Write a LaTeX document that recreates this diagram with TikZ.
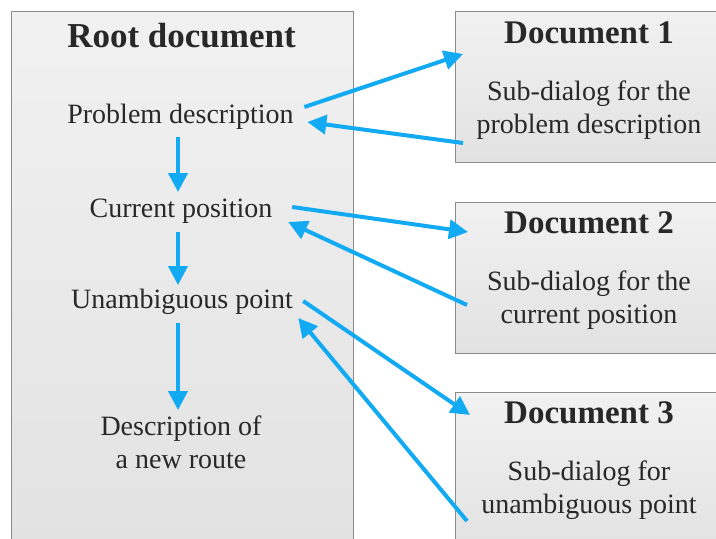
\documentclass[tikz,border=0pt]{standalone}
\usepackage{fontspec}
\setmainfont{Liberation Serif}
\usetikzlibrary{arrows.meta}
\definecolor{arrowblue}{RGB}{18,170,242}
\definecolor{boxline}{RGB}{140,140,140}
\definecolor{boxtop}{RGB}{241,241,241}
\definecolor{boxbot}{RGB}{226,226,226}
\definecolor{txt}{RGB}{40,40,40}
\begin{document}
\begin{tikzpicture}[x=1pt,y=-1pt,
  panel/.style={draw=boxline, line width=1.3pt, top color=boxtop, bottom color=boxbot, inner sep=0pt, anchor=north west},
  heading/.style={font=\fontsize{33}{40}\selectfont\bfseries, text=txt, inner sep=0pt, anchor=base},
  label/.style={font=\fontsize{28}{33}\selectfont, text=txt, inner sep=0pt, align=center},
  flow/.style={draw=arrowblue, line width=4pt, -{Triangle[width=19pt,length=19pt]}}
]
\useasboundingbox (0,0) rectangle (716,539);
\clip (0,0) rectangle (716,539);
% boxes
\node[panel, minimum width=342pt, minimum height=535pt] (root) at (11,11) {};
\node[panel, minimum width=268pt, minimum height=151pt] (d1) at (455,11) {};
\node[panel, minimum width=268pt, minimum height=151pt] (d2) at (455,202) {};
\node[panel, minimum width=268pt, minimum height=160pt] (d3) at (455,392) {};
% root texts
\node[heading, font=\fontsize{35}{42}\selectfont\bfseries] (title) at (181.5,47) {Root document};
\node[label, anchor=base] (pd) at (180.5,123) {Problem description};
\node[label, anchor=base] (cp) at (181,217) {Current position};
\node[label, anchor=base] (up) at (182,308) {Unambiguous point};
\node[label, anchor=north] (dr) at (181,416) {Description of\\a new route};
% document texts
\node[heading] (h1) at (589,43) {Document 1};
\node[label, anchor=north] (s1) at (589,81) {Sub-dialog for the\\problem description};
\node[heading] (h2) at (589,233) {Document 2};
\node[label, anchor=north] (s2) at (589,271) {Sub-dialog for the\\current position};
\node[heading] (h3) at (589,423) {Document 3};
\node[label, anchor=north] (s3) at (589,461) {Sub-dialog for\\unambiguous point};
% arrows
\draw[flow] ([shift={(10.5,-16)}]pd.base east) -- ([shift={(8,43)}]d1.north west);
\draw[flow] ([shift={(8,132)}]d1.north west) -- ([shift={(13.5,-1)}]pd.base east);
\draw[flow] ([shift={(19.6,-10)}]cp.base east) -- ([shift={(13,30)}]d2.north west);
\draw[flow] ([shift={(12,103)}]d2.north west) -- ([shift={(15.6,5)}]cp.base east);
\draw[flow] ([shift={(10.2,-7)}]up.base east) -- ([shift={(15,23)}]d3.north west);
\draw[flow] ([shift={(12,129)}]d3.north west) -- ([shift={(5.2,10)}]up.base east);
\draw[flow] ([shift={(-2.5,14)}]pd.base) -- ([shift={(-3,-25)}]cp.base);
\draw[flow] ([shift={(-3,15)}]cp.base) -- ([shift={(-4,-23)}]up.base);
\draw[flow] ([shift={(-4,15)}]up.base) -- ([shift={(-3,-6)}]dr.north);
\end{tikzpicture}
\end{document}
